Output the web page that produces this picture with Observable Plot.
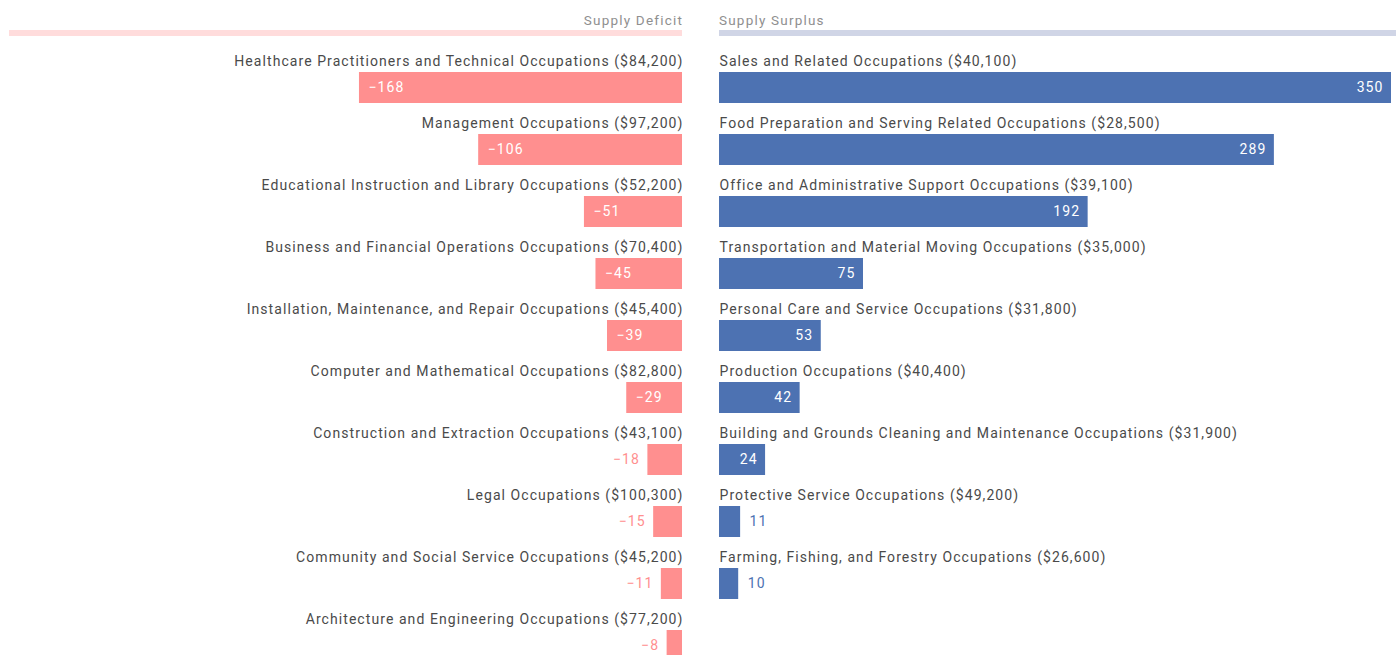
<!DOCTYPE html>
<html>
<head>
<meta charset="utf-8">
<script src="https://cdn.jsdelivr.net/npm/d3@7"></script>
<script src="https://cdn.jsdelivr.net/npm/@observablehq/plot@0.6"></script>
<style>
  html, body { margin: 0; padding: 0; background: #fff; font-family: Roboto, sans-serif; }
  #wrap { position: relative; width: 1396px; height: 655px; overflow: hidden; }
  .hdr { position: absolute; top: 11px; font-size: 13.5px; color: #8f8f8f; line-height: 18px; letter-spacing: 1.2px; }
  .bar { position: absolute; top: 30px; height: 6px; }
  .panel { position: absolute; top: 0; }
</style>
</head>
<body>
<div id="wrap">
  <div class="hdr" style="right:713px; text-align:right;">Supply Deficit</div>
  <div class="bar" style="left:9px; width:673px; background:#ffdcdc;"></div>
  <div class="hdr" style="left:719px;">Supply Surplus</div>
  <div class="bar" style="left:719px; width:677px; background:#d0d5e6;"></div>
  <div class="panel" id="left" style="left:0;"></div>
  <div class="panel" id="right" style="left:700px;"></div>
</div>
<script>
const deficitCategories = [
  "Healthcare Practitioners and Technical Occupations",
  "Management Occupations",
  "Educational Instruction and Library Occupations",
  "Business and Financial Operations Occupations",
  "Installation, Maintenance, and Repair Occupations",
  "Computer and Mathematical Occupations",
  "Construction and Extraction Occupations",
  "Legal Occupations",
  "Community and Social Service Occupations",
  "Architecture and Engineering Occupations"
];
const deficitWages = [84200, 97200, 52200, 70400, 45400, 82800, 43100, 100300, 45200, 77200];
const deficitValues = [-168, -106, -51, -45, -39, -29, -18, -15, -11, -8];

const surplusCategories = [
  "Sales and Related Occupations",
  "Food Preparation and Serving Related Occupations",
  "Office and Administrative Support Occupations",
  "Transportation and Material Moving Occupations",
  "Personal Care and Service Occupations",
  "Production Occupations",
  "Building and Grounds Cleaning and Maintenance Occupations",
  "Protective Service Occupations",
  "Farming, Fishing, and Forestry Occupations"
];
const surplusWages = [40100, 28500, 39100, 35000, 31800, 40400, 31900, 49200, 26600];
const surplusValues = [350, 289, 192, 75, 53, 42, 24, 11, 10];

const rowCount = 10;
const xMax = 350;
const wageFmt = d3.format(",");
const valFmt = d3.format("d");

const deficit = deficitCategories.map((c, i) => ({row: i, label: `${c} ($${wageFmt(deficitWages[i])})`, value: deficitValues[i]}));
const surplus = surplusCategories.map((c, i) => ({row: i, label: `${c} ($${wageFmt(surplusWages[i])})`, value: surplusValues[i]}));

const pink = "#ff8f8f";
const blue = "#4d72b2";
const textCol = "#4a4a4a";
const insideMin = 20;

const common = {
  height: 662,
  marginTop: 40,
  marginBottom: 0,
  y: {domain: d3.range(rowCount), axis: null, padding: 0},
  style: {fontFamily: "Roboto, sans-serif", fontSize: "14px", letterSpacing: "1.07px", background: "transparent", overflow: "visible"}
};

const left = Plot.plot({
  ...common,
  width: 700,
  marginLeft: 9,
  marginRight: 18,
  x: {domain: [-xMax, 0], axis: null},
  marks: [
    Plot.barX(deficit, {x1: 0, x2: "value", y: "row", fill: pink, insetTop: 31, insetBottom: 0}),
    Plot.text(deficit, {x: 0, y: "row", text: "label", textAnchor: "end", dx: 1, dy: -10.5, fill: textCol, fontSize: 14}),
    Plot.text(deficit.filter(d => Math.abs(d.value) >= insideMin), {x: "value", y: "row", text: d => valFmt(d.value), textAnchor: "start", dx: 9, dy: 15.5, fill: "white", fontSize: 14}),
    Plot.text(deficit.filter(d => Math.abs(d.value) < insideMin), {x: "value", y: "row", text: d => valFmt(d.value), textAnchor: "end", dx: -8, dy: 15.5, fill: pink, fontSize: 14})
  ]
});

const right = Plot.plot({
  ...common,
  width: 696,
  marginLeft: 19,
  marginRight: 5,
  x: {domain: [0, xMax], axis: null},
  marks: [
    Plot.barX(surplus, {x1: 0, x2: "value", y: "row", fill: blue, insetTop: 31, insetBottom: 0}),
    Plot.text(surplus, {x: 0, y: "row", text: "label", textAnchor: "start", dy: -10.5, fill: textCol, fontSize: 14}),
    Plot.text(surplus.filter(d => Math.abs(d.value) >= insideMin), {x: "value", y: "row", text: d => valFmt(d.value), textAnchor: "end", dx: -8, dy: 15.5, fill: "white", fontSize: 14}),
    Plot.text(surplus.filter(d => Math.abs(d.value) < insideMin), {x: "value", y: "row", text: d => valFmt(d.value), textAnchor: "start", dx: 9, dy: 15.5, fill: blue, fontSize: 14})
  ]
});

document.getElementById("left").appendChild(left);
document.getElementById("right").appendChild(right);
</script>
</body>
</html>
